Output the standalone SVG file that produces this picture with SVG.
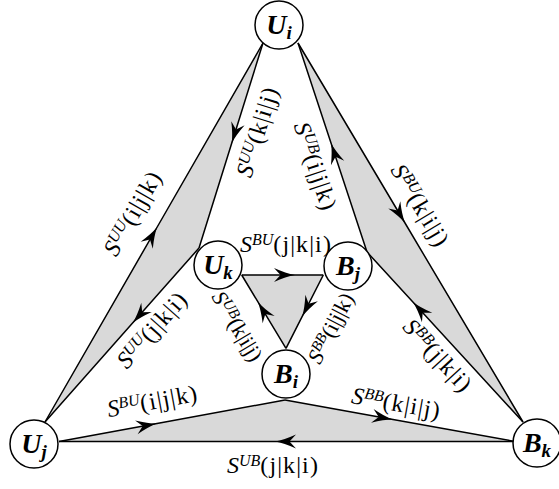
<svg xmlns="http://www.w3.org/2000/svg" width="559" height="489" viewBox="0 0 559 489">
<style>
.wedge{fill:#d9d9d9;stroke:none}
.edge{fill:none;stroke:#000;stroke-width:1.5;marker-mid:url(#arr)}
.node circle{fill:#fff;stroke:#000;stroke-width:1.5}
.nl{font-family:"Liberation Serif",serif;font-weight:bold;font-style:italic;font-size:28px;text-anchor:middle}
.nl .sub{font-size:19px}
.lab{font-family:"Liberation Serif",serif;font-size:24px;text-anchor:middle}
.lab .s{font-style:italic}
.lab .sup{font-style:italic;font-size:16px}
.lab .arg{letter-spacing:1.1px}
.lab.small{font-size:22px}
.lab.small .sup{font-size:15px}
</style>
<defs>
<marker id="arr" markerUnits="userSpaceOnUse" markerWidth="24" markerHeight="16" viewBox="0 0 24 16" refX="22" refY="8" orient="auto">
<path d="M22,8 Q13,6.4 1,1 L7.5,8 L1,15 Q13,9.6 22,8 Z" fill="#000"/>
</marker>
</defs>
<g id="wedges">
<polygon class="wedge" points="263,43 199,248 45,422"/>
<polygon class="wedge" points="298,43 367,252 523,422"/>
<polygon class="wedge" points="59,441.5 285,400 515,441.5"/>
<polygon class="wedge" points="241.7,275 323.3,275 286,348.3"/>
</g>
<g id="connectors">
<path class="edge" d="M45,422 L157.2,227 L263,43"/>
<path class="edge" d="M263,43 L231.7,143.3 L199,248"/>
<path class="edge" d="M199,248 L132.6,323 L45,422"/>
<path class="edge" d="M298,43 L405,223 L523,422"/>
<path class="edge" d="M523,422 L412.9,302 L367,252"/>
<path class="edge" d="M367,252 L331,143 L298,43"/>
<path class="edge" d="M59,441.5 L157,423.5 L285,400"/>
<path class="edge" d="M285,400 L393,419.5 L515,441.5"/>
<path class="edge" d="M515,441.5 L275,441.5 L59,441.5"/>
<path class="edge" d="M241.7,275 L295,275 L323.3,275"/>
<path class="edge" d="M323.3,275 L302.1,316.7 L286,348.3"/>
<path class="edge" d="M286,348.3 L257.8,301.7 L241.7,275"/>
</g>
<g id="labels">
<text class="lab" transform="translate(139.5,217) rotate(-60.1)"><tspan class="s">S</tspan><tspan class="sup" dy="-7">UU</tspan><tspan class="arg" dy="7">(i|j|k)</tspan></text>
<text class="lab" transform="translate(265,134) rotate(-72.7)"><tspan class="s">S</tspan><tspan class="sup" dy="-7">UU</tspan><tspan class="arg" dy="7">(k|i|j)</tspan></text>
<text class="lab" transform="translate(158,335) rotate(-48.5)"><tspan class="s">S</tspan><tspan class="sup" dy="-7">UU</tspan><tspan class="arg" dy="7">(j|k|i)</tspan></text>
<text class="lab" transform="translate(308,168.9) rotate(71.7)"><tspan class="s">S</tspan><tspan class="sup" dy="-7">UB</tspan><tspan class="arg" dy="7">(i|j|k)</tspan></text>
<text class="lab" transform="translate(413.5,209.5) rotate(59.3)"><tspan class="s">S</tspan><tspan class="sup" dy="-7">BU</tspan><tspan class="arg" dy="7">(k|i|j)</tspan></text>
<text class="lab" transform="translate(432,361) rotate(47.5)"><tspan class="s">S</tspan><tspan class="sup" dy="-7">BB</tspan><tspan class="arg" dy="7">(j|k|i)</tspan></text>
<text class="lab small" transform="translate(231,330) rotate(58.9)"><tspan class="s">S</tspan><tspan class="sup" dy="-6.5">UB</tspan><tspan dy="6.5">(k|i|j)</tspan></text>
<text class="lab small" transform="translate(337.2,331.5) rotate(-63)"><tspan class="s">S</tspan><tspan class="sup" dy="-6.5">BB</tspan><tspan dy="6.5">(i|j|k)</tspan></text>
<text class="lab" transform="translate(286,252)"><tspan class="s">S</tspan><tspan class="sup" dy="-7">BU</tspan><tspan class="arg" dy="7">(j|k|i)</tspan></text>
<text class="lab" transform="translate(154,409) rotate(-10.4)"><tspan class="s">S</tspan><tspan class="sup" dy="-7">BU</tspan><tspan class="arg" dy="7">(i|j|k)</tspan></text>
<text class="lab" transform="translate(395,411) rotate(10.2)"><tspan class="s">S</tspan><tspan class="sup" dy="-7">BB</tspan><tspan class="arg" dy="7">(k|i|j)</tspan></text>
<text class="lab" transform="translate(273,473)"><tspan class="s">S</tspan><tspan class="sup" dy="-7">UB</tspan><tspan class="arg" dy="7">(j|k|i)</tspan></text>
</g>
<g id="Ui" class="node"><circle cx="279" cy="25" r="24"/><text class="nl" x="279" y="34">U<tspan class="sub" dy="5">i</tspan></text></g>
<g id="Uj" class="node"><circle cx="34" cy="444" r="24"/><text class="nl" x="34" y="453">U<tspan class="sub" dy="5">j</tspan></text></g>
<g id="Bk" class="node"><circle cx="537" cy="443" r="24"/><text class="nl" x="537" y="452">B<tspan class="sub" dy="5">k</tspan></text></g>
<g id="Uk" class="node"><circle cx="218" cy="265" r="24"/><text class="nl" x="218" y="274">U<tspan class="sub" dy="5">k</tspan></text></g>
<g id="Bj" class="node"><circle cx="348" cy="266" r="24"/><text class="nl" x="348" y="275">B<tspan class="sub" dy="5">j</tspan></text></g>
<g id="Bi" class="node"><circle cx="286" cy="374" r="24"/><text class="nl" x="286" y="383">B<tspan class="sub" dy="5">i</tspan></text></g>
</svg>
